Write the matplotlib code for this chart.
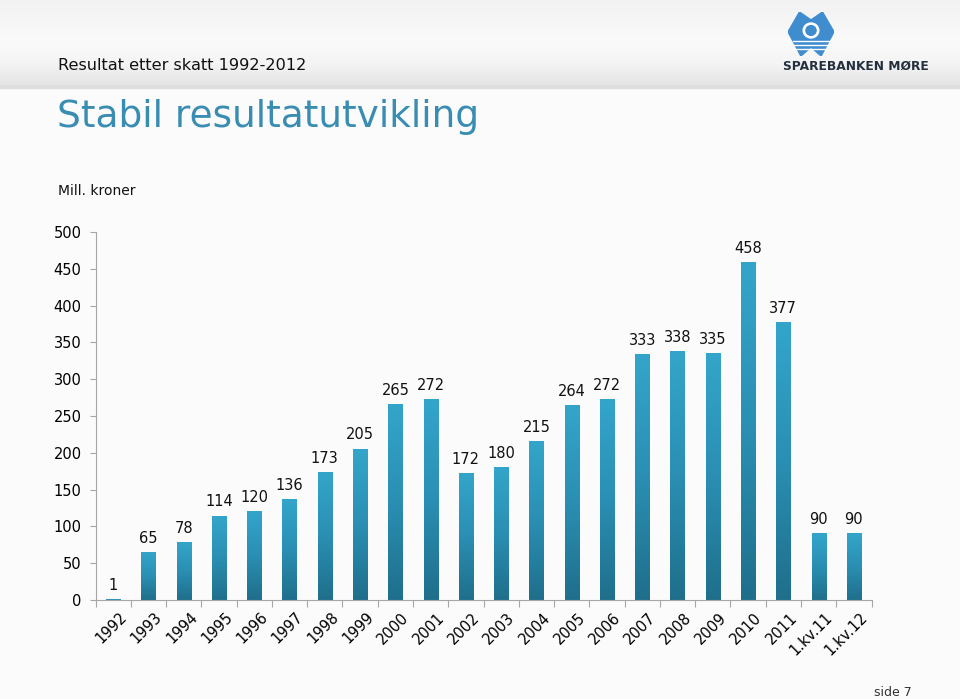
import matplotlib.pyplot as plt
import numpy as np
from matplotlib.colors import LinearSegmentedColormap
from matplotlib.patches import Polygon, Rectangle, Circle
from matplotlib.transforms import ScaledTranslation

# --- data ---
categories = ['1992', '1993', '1994', '1995', '1996', '1997', '1998', '1999',
              '2000', '2001', '2002', '2003', '2004', '2005', '2006', '2007',
              '2008', '2009', '2010', '2011', '1.kv.11', '1.kv.12']
values = [1, 65, 78, 114, 120, 136, 173, 205, 265, 272, 172, 180, 215,
          264, 272, 333, 338, 335, 458, 377, 90, 90]

header_text = 'Resultat etter skatt 1992-2012'
title = 'Stabil resultatutvikling'
unit_text = 'Mill. kroner'
page_text = 'side 7'

plt.rcParams['font.family'] = ['DejaVu Sans']

bar_cmap = LinearSegmentedColormap.from_list('bar', ['#1f6f8b', '#2a8fb3', '#34a5ca'])


def draw_background(fig):
    # light page with a soft grey header band
    bg = fig.add_axes([0, 0, 1, 1], zorder=-10)
    bg.set_axis_off()
    grad = np.linspace(0, 1, 256).reshape(-1, 1)
    bg.imshow(grad, extent=[0, 1, 1 - 85 / 699, 1], aspect='auto',
              cmap=LinearSegmentedColormap.from_list(
                  'hdr', ['#e4e4e4', '#f4f4f4', '#fafafa', '#f6f6f6', '#f2f2f2']),
              origin='lower', transform=bg.transAxes)
    bg.add_patch(Rectangle((0, 0), 1, 1 - 85 / 699, color='#fbfbfb', transform=bg.transAxes))
    bg.add_patch(Rectangle((0, 1 - 88 / 699), 1, 3 / 699, color='#dedede', transform=bg.transAxes))
    bg.set_xlim(0, 1)
    bg.set_ylim(0, 1)


def draw_logo(fig):
    lg = fig.add_axes([788 / 960, 1 - 56 / 699, 46 / 960, 44 / 699], zorder=5)
    lg.set_axis_off()
    lg.set_xlim(0, 1)
    lg.set_ylim(0, 1)
    blue = '#3f8ccf'
    lg.add_patch(Polygon([(0.0, 0.55), (0.25, 1.0), (0.5, 0.82), (0.75, 1.0),
                          (1.0, 0.55), (0.72, 0.0), (0.5, 0.2), (0.28, 0.0)],
                         closed=True, color=blue))
    lg.add_patch(Circle((0.5, 0.58), 0.17, color='white'))
    lg.add_patch(Circle((0.5, 0.58), 0.11, color=blue))
    for y in [0.34, 0.24, 0.15]:
        lg.plot([0.1, 0.9], [y, y], color='white', lw=1.0)
    fig.text(856 / 960, 1 - 66 / 699, 'SPAREBANKEN MØRE', ha='center', va='center',
             fontsize=8.8, fontweight='bold', color='#24303f')


def main():
    fig = plt.figure(figsize=(9.6, 6.99), dpi=100)
    draw_background(fig)

    fig.text(58 / 960, 1 - 65 / 699, header_text, fontsize=11.6, color='#111111',
             va='center', ha='left')
    fig.text(57 / 960, 1 - 117 / 699, title, fontsize=27, color='#3a8db2',
             va='center', ha='left')
    fig.text(58 / 960, 1 - 191 / 699, unit_text, fontsize=10, color='#111111',
             va='center', ha='left')
    fig.text(912 / 960, 1 - 692 / 699, page_text, fontsize=9, color='#333333',
             va='center', ha='right')

    ax = fig.add_axes([95.5 / 960, 1 - 600 / 699, 776 / 960, 368 / 699])
    ax.patch.set_alpha(0)

    x = np.arange(len(categories))
    width = 0.4
    grad = np.linspace(0, 1, 256).reshape(-1, 1)
    bars = ax.bar(x, values, width=width, color='none')
    for b, v in zip(bars, values):
        ax.imshow(grad, extent=[b.get_x(), b.get_x() + b.get_width(), 0, v],
                  aspect='auto', cmap=bar_cmap, origin='lower', zorder=2)
        ax.text(b.get_x() + b.get_width() / 2, v + 9, f'{v}', ha='center',
                va='bottom', fontsize=10.5, color='#111111')

    ax.set_xlim(-0.5, len(categories) - 0.5)
    ax.set_ylim(0, 500)
    ax.set_yticks(np.arange(0, 501, 50))
    ax.tick_params(axis='y', labelsize=10.5, length=4, color='#a6a6a6', pad=6)

    ax.set_xticks(np.arange(-0.5, len(categories), 1))
    ax.set_xticklabels([])
    ax.set_xticks(x, minor=True)
    ax.set_xticklabels(categories, minor=True, rotation=45, ha='right',
                       rotation_mode='anchor', fontsize=10.5)
    ax.tick_params(axis='x', which='major', length=5, color='#a6a6a6')
    ax.tick_params(axis='x', which='minor', length=0, pad=7)
    offset = ScaledTranslation(6 / 100, 0, fig.dpi_scale_trans)
    for lbl in ax.get_xticklabels(minor=True):
        lbl.set_transform(lbl.get_transform() + offset)

    for s in ['top', 'right']:
        ax.spines[s].set_visible(False)
    for s in ['left', 'bottom']:
        ax.spines[s].set_color('#a6a6a6')

    draw_logo(fig)

    fig.savefig('out.png', dpi=100)


if __name__ == '__main__':
    main()
